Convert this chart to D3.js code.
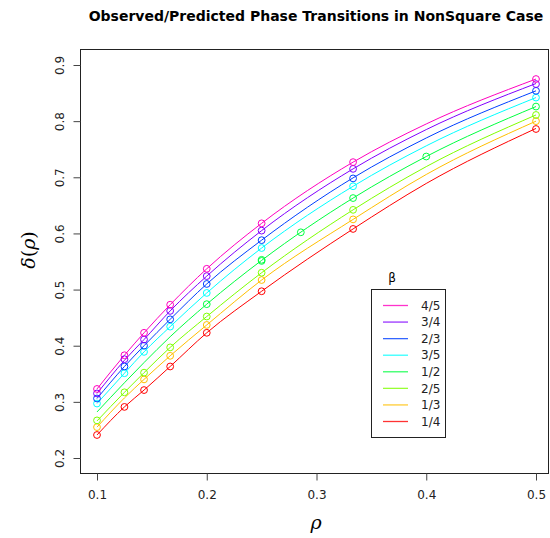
<!DOCTYPE html>
<html>
<head>
<meta charset="utf-8">
<script src="https://cdn.jsdelivr.net/npm/d3@7"></script>
<style>
  body { margin: 0; background: #fff; }
  svg { display: block; }
</style>
</head>
<body>
<svg id="output"></svg>
<script>
// beta groups, bottom curve first
const betaLabels = ["1/4", "1/3", "2/5", "1/2", "3/5", "2/3", "3/4", "4/5"];
const betaColors = ["#FF0000", "#FFBF00", "#80FF00", "#00FF40", "#00FFFF", "#0040FF", "#8000FF", "#FF00BF"];

// predicted curves
const rhoGrid = [0.1, 0.125, 1/7, 1/6, 0.2, 0.25, 1/3, 0.4, 0.5];
const predQuarter  = [0.241, 0.291, 0.321, 0.363, 0.423, 0.497, 0.608, 0.689, 0.787];
const predThird    = [0.255, 0.307, 0.340, 0.382, 0.437, 0.517, 0.625, 0.705, 0.800];
const predTwoFifth = [0.266, 0.317, 0.352, 0.397, 0.452, 0.530, 0.642, 0.719, 0.811];
const predHalf     = [0.282, 0.334, 0.370, 0.416, 0.474, 0.552, 0.663, 0.737, 0.826];
const predThreeFifth = [0.297, 0.351, 0.389, 0.434, 0.494, 0.574, 0.684, 0.756, 0.842];
const predTwoThird = [0.306, 0.363, 0.400, 0.447, 0.510, 0.588, 0.699, 0.770, 0.854];
const predThreeQuarter = [0.315, 0.374, 0.411, 0.462, 0.524, 0.605, 0.715, 0.785, 0.867];
const predFourFifth = [0.323, 0.383, 0.423, 0.473, 0.537, 0.618, 0.727, 0.795, 0.875];

// observed transitions
const rhoObs = [0.1, 0.125, 1/7, 1/6, 0.2, 0.25, 1/3, 0.5];
const rhoObsThird = [0.1, 1/7, 1/6, 0.2, 0.25, 1/3, 0.5];
const rhoObsHalf = [0.2, 0.25, 0.25, 2/7, 1/3, 0.4, 0.5];
const obsQuarter  = [0.241, 0.291, 0.321, 0.363, 0.423, 0.497, 0.608, 0.786];
const obsThird    = [0.255, 0.340, 0.382, 0.437, 0.517, 0.625, 0.800];
const obsTwoFifth = [0.267, 0.317, 0.352, 0.397, 0.452, 0.530, 0.642, 0.811];
const obsHalf     = [0.474, 0.551, 0.553, 0.602, 0.663, 0.737, 0.826];
const obsThreeFifth = [0.297, 0.351, 0.389, 0.434, 0.494, 0.574, 0.684, 0.842];
const obsTwoThird = [0.306, 0.363, 0.400, 0.447, 0.510, 0.588, 0.698, 0.854];
const obsThreeQuarter = [0.315, 0.376, 0.411, 0.462, 0.524, 0.605, 0.715, 0.866];
const obsFourFifth = [0.323, 0.383, 0.423, 0.473, 0.537, 0.618, 0.727, 0.875];

const xTicks = [0.1, 0.2, 0.3, 0.4, 0.5];
const yTicks = [0.2, 0.3, 0.4, 0.5, 0.6, 0.7, 0.8, 0.9];

const predicted = [predQuarter, predThird, predTwoFifth, predHalf, predThreeFifth, predTwoThird, predThreeQuarter, predFourFifth];
const observedRho = [rhoObs, rhoObsThird, rhoObs, rhoObsHalf, rhoObs, rhoObs, rhoObs, rhoObs];
const observed = [obsQuarter, obsThird, obsTwoFifth, obsHalf, obsThreeFifth, obsTwoThird, obsThreeQuarter, obsFourFifth];

const width = 550, height = 538;
const box = {left: 80, right: 548, top: 49, bottom: 473};

const svg = d3.select("#output")
    .attr("width", width)
    .attr("height", height)
    .attr("viewBox", [0, 0, width, height]);

const x = d3.scaleLinear().domain([0.1, 0.5]).range([97, 536]);
const y = d3.scaleLinear().domain([0.2, 0.9]).range([458, 65]);

// title
svg.append("text")
    .attr("x", 316).attr("y", 21)
    .attr("text-anchor", "middle")
    .style("font-family", "DejaVu Sans")
    .style("font-weight", "bold")
    .style("font-size", "14px")
    .text("Observed/Predicted Phase Transitions in NonSquare Case");

// curves
const line = d3.line()
    .x(d => x(d[0]))
    .y(d => y(d[1]))
    .curve(d3.curveMonotoneX);

const plot = svg.append("g");
predicted.forEach(function(vals, i){
    plot.append("path")
        .datum(rhoGrid.map((r, k) => [r, vals[k]]))
        .attr("fill", "none")
        .attr("stroke", betaColors[i])
        .attr("stroke-width", 1)
        .attr("d", line);
});

// observed circles
observed.forEach(function(vals, i){
    plot.selectAll(null)
        .data(vals.map((v, k) => [observedRho[i][k], v]))
        .enter()
        .append("circle")
        .attr("cx", d => x(d[0]))
        .attr("cy", d => y(d[1]))
        .attr("r", 3.4)
        .attr("fill", "none")
        .attr("stroke", betaColors[i])
        .attr("stroke-width", 1);
});

// box
svg.append("rect")
    .attr("x", box.left + 0.5).attr("y", box.top + 0.5)
    .attr("width", box.right - box.left).attr("height", box.bottom - box.top)
    .attr("fill", "none").attr("stroke", "#222").attr("stroke-width", 1);

// axes
const xAxis = svg.append("g")
    .attr("transform", `translate(0,${box.bottom + 0.5})`)
    .call(d3.axisBottom(x).tickValues(xTicks).tickSize(7).tickPadding(10).tickFormat(d3.format(".1f")));
const yAxis = svg.append("g")
    .attr("transform", `translate(${box.left + 0.5},0)`)
    .call(d3.axisLeft(y).tickValues(yTicks).tickSize(7).tickPadding(0).tickFormat(d3.format(".1f")));

[xAxis, yAxis].forEach(function(a){
    a.select(".domain").remove();
    a.selectAll("line").attr("stroke", "#444");
    a.selectAll("text")
        .attr("fill", "#222")
        .style("font-family", "DejaVu Sans")
        .style("font-size", "12px");
});
yAxis.selectAll("text")
    .attr("x", null).attr("dy", null)
    .attr("text-anchor", "middle")
    .attr("transform", "translate(-17,0) rotate(-90)");

// axis labels
svg.append("text")
    .attr("x", 316).attr("y", 529)
    .attr("text-anchor", "middle")
    .style("font-family", "DejaVu Serif")
    .style("font-style", "italic")
    .style("font-size", "19px")
    .text("ρ");

const ylab = svg.append("text")
    .attr("transform", "translate(35,250) rotate(-90)")
    .attr("text-anchor", "middle")
    .style("font-family", "DejaVu Serif")
    .style("font-size", "19px");
ylab.append("tspan").style("font-style", "italic").text("δ");
ylab.append("tspan").text("(");
ylab.append("tspan").style("font-style", "italic").text("ρ");
ylab.append("tspan").text(")");

// legend
const legend = svg.append("g");
legend.append("text")
    .attr("x", 392).attr("y", 282)
    .attr("text-anchor", "middle")
    .style("font-family", "DejaVu Sans")
    .style("font-size", "12px")
    .text("β");
legend.append("rect")
    .attr("x", 371.5).attr("y", 289.5)
    .attr("width", 74).attr("height", 148)
    .attr("fill", "#fff").attr("stroke", "#222");

const legY = d3.scalePoint().domain(betaLabels.slice().reverse()).range([305.5, 421.5]);
betaLabels.forEach(function(lab, i){
    legend.append("line")
        .attr("x1", 383).attr("x2", 408)
        .attr("y1", legY(lab)).attr("y2", legY(lab))
        .attr("stroke", betaColors[i]).attr("stroke-width", 1.3).attr("stroke-opacity", 0.8);
    legend.append("text")
        .attr("x", 421).attr("y", legY(lab))
        .attr("dy", "0.35em")
        .style("font-family", "DejaVu Sans")
        .style("font-size", "12px")
        .attr("fill", "#222")
        .text(lab);
});
</script>
</body>
</html>
